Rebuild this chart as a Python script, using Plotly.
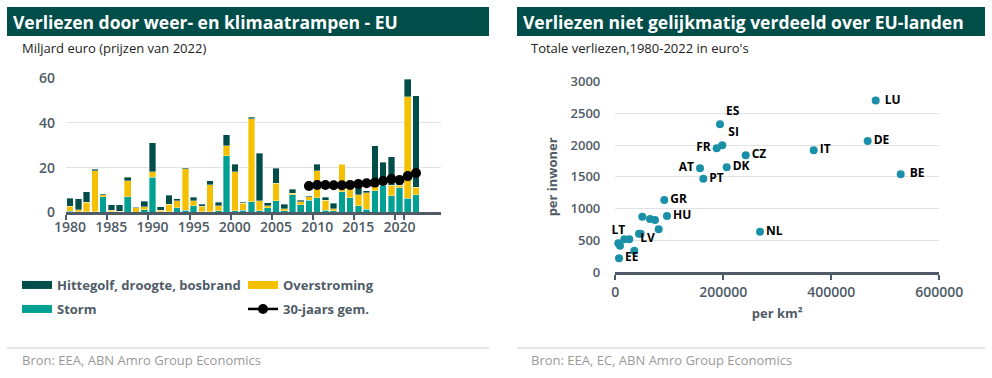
import plotly.graph_objects as go

# ---------------- data ----------------
years = list(range(1980, 2023))
storm = [0.5, 0.3, 0.2, 0.2, 7.0, 0.2, 0.3, 7.0, 0.1, 1.2,
         15.7, 0.2, 0.3, 2.1, 1.0, 3.0, 0.3, 0.3, 0.7, 25.4,
         0.6, 1.0, 4.8, 0.7, 2.1, 5.1, 0.7, 7.9, 3.3, 5.5,
         6.6, 1.0, 0.6, 9.3, 6.6, 3.0, 1.3, 9.6, 12.2, 7.5,
         11.0, 6.3, 7.8]
flood = [2.2, 0.8, 4.3, 18.5, 0.9, 0.8, 0.2, 7.2, 2.0, 1.2,
         2.5, 0.8, 3.3, 3.1, 18.4, 2.2, 2.4, 12.1, 2.3, 4.5,
         17.5, 3.0, 37.0, 4.5, 0.9, 7.9, 0.8, 0.6, 1.5, 1.4,
         11.9, 4.5, 0.9, 12.2, 4.0, 4.8, 7.5, 1.9, 0.3, 4.7,
         1.2, 45.5, 3.4]
heat = [3.6, 4.9, 4.8, 0.6, 0.3, 2.3, 2.8, 1.5, 0.1, 2.5,
        13.0, 1.5, 4.0, 0.8, 0.5, 1.5, 0.9, 1.8, 1.5, 4.9,
        3.4, 0.5, 0.7, 21.2, 1.3, 6.7, 2.2, 1.9, 0.6, 0.6,
        3.0, 1.2, 2.5, 0.3, 0.3, 3.2, 0.9, 18.4, 10.0, 12.7,
        1.5, 7.8, 40.9]
avg_years = list(range(2009, 2023))
avg30 = [11.8, 12.2, 12.2, 12.1, 12.1, 12.2, 12.7, 13.0, 13.3, 14.0, 14.9, 14.5, 16.2, 17.6]
year_ticks = ["1980", "1985", "1990", "1995", "2000", "2005", "2010", "2015", "2020"]

per_km2 = [193900, 198100, 187800, 241500, 156900, 206300, 163000, 90700, 95700, 268000,
           482200, 467400, 367400, 528500, 50000, 64300, 73500, 80300, 43900, 47000,
           5600, 8700, 16700, 25900, 35200, 6900]
per_inw = [2330, 1998, 1951, 1840, 1636, 1651, 1472, 1136, 883, 636,
           2702, 2066, 1919, 1541, 872, 836, 820, 673, 604, 604,
           453, 415, 516, 516, 336, 216]
country_labels = ["ES", "SI", "FR", "CZ", "AT", "DK", "PT", "GR", "HU", "NL",
                  " LU", "DE", "IT", " BE", "", "", "", "", "", "",
                  "LT", "", "", "", "LV", "EE"]
label_pos = ["top right", "top right", "middle left", "middle right", "middle left",
             "middle right", "middle right", "middle right", "middle right", "middle right",
             "middle right", "middle right", "middle right", "middle right",
             "middle right", "middle right", "middle right", "middle right", "middle right", "middle right",
             "top center", "middle right", "middle right", "middle right", "top right", "middle right"]

# ---------------- style ----------------
W, H = 992, 378
C_TITLE = "#004d49"
C_HEAT = "#004d49"
C_FLOOD = "#f5c000"
C_STORM = "#00a193"
C_DOT = "#1a90a8"
GRAY = "#4f5b66"
GRID = "#e2e2e2"
FONT = "Open Sans"

def px(x):
    return x / W

def py(y):
    return 1 - y / H

x_labels = [str(y) for y in years]
avg_labels = [str(y) for y in avg_years]

fig = go.Figure()

for name, vals, col in [("Storm", storm, C_STORM), ("Overstroming", flood, C_FLOOD),
                        ("Hittegolf, droogte, bosbrand", heat, C_HEAT)]:
    fig.add_trace(go.Bar(x=x_labels, y=vals, name=name, marker_color=col,
                         marker_line=dict(color="rgba(255,255,255,0.6)", width=0.6),
                         showlegend=False, xaxis="x", yaxis="y"))

fig.add_trace(go.Scatter(x=avg_labels, y=avg30, mode="lines+markers", name="30-jaars gem.",
                         line=dict(color="black", width=2.5), marker=dict(size=10, color="black"),
                         xaxis="x", yaxis="y", legend="legend2", legendrank=2))

# legend swatches (wide rectangles like the original)
fig.add_trace(go.Scatter(x=[None], y=[None], mode="lines", name="Hittegolf, droogte, bosbrand",
                         line=dict(color=C_HEAT, width=8), xaxis="x", yaxis="y", legend="legend"))
fig.add_trace(go.Scatter(x=[None], y=[None], mode="lines", name="Overstroming",
                         line=dict(color=C_FLOOD, width=8), xaxis="x", yaxis="y", legend="legend"))
fig.add_trace(go.Scatter(x=[None], y=[None], mode="lines", name="Storm",
                         line=dict(color=C_STORM, width=8), xaxis="x", yaxis="y",
                         legend="legend2", legendrank=1))

fig.add_trace(go.Scatter(x=per_km2, y=per_inw, mode="markers+text", text=country_labels,
                         textposition=label_pos, cliponaxis=False,
                         textfont=dict(family=FONT, size=12, color="black", weight=700),
                         marker=dict(size=8, color=C_DOT), showlegend=False,
                         xaxis="x2", yaxis="y2"))

tickfont = dict(family=FONT, size=14, color=GRAY, weight=600)
legfont = dict(family=FONT, size=13, color=GRAY, weight=700)

fig.update_layout(
    template="none",
    width=W, height=H, margin=dict(l=0, r=0, t=0, b=0, autoexpand=False),
    paper_bgcolor="white", plot_bgcolor="white",
    font=dict(family=FONT),
    barmode="stack", bargap=0.2,
    xaxis=dict(type="category", domain=[px(66), px(441)], anchor="y", automargin=False,
               tickmode="array", tickvals=year_ticks, tickson="boundaries", tickangle=0,
               ticks="outside", ticklen=5, tickwidth=2, tickcolor=GRAY,
               showline=True, linecolor=GRAY, linewidth=3, showgrid=False,
               tickfont=tickfont),
    yaxis=dict(domain=[py(212.3), py(78.3)], range=[0, 60], dtick=20, automargin=False,
               gridcolor=GRID, gridwidth=1, zeroline=False, showline=False, ticks="",
               tickfont=tickfont, ticklabelstandoff=10),
    xaxis2=dict(domain=[px(615.3), px(939.3)], anchor="y2", range=[0, 600000], automargin=False,
                dtick=200000, tickformat="d", showline=True, linecolor=GRAY, linewidth=3,
                ticks="outside", ticklen=5, tickwidth=2, tickcolor=GRAY, tickangle=0,
                showgrid=False, zeroline=False, tickfont=tickfont,
                title=dict(text="per km²", font=legfont, standoff=10)),
    yaxis2=dict(domain=[py(272), py(81.7)], anchor="x2", range=[0, 3000], dtick=500,
                automargin=False, gridcolor=GRID, gridwidth=1, zeroline=False, showline=False,
                ticks="", tickfont=dict(family=FONT, size=13, color=GRAY, weight=600),
                ticklabelstandoff=14,
                title=dict(text="per inwoner", font=legfont, standoff=10)),
    legend=dict(orientation="h", x=px(17), xanchor="left", y=py(285), yanchor="middle",
                entrywidth=181, entrywidthmode="pixels", font=legfont,
                bgcolor="rgba(0,0,0,0)", itemwidth=30, traceorder="normal"),
    legend2=dict(orientation="h", x=px(17), xanchor="left", y=py(309), yanchor="middle",
                 entrywidth=181, entrywidthmode="pixels", font=legfont,
                 bgcolor="rgba(0,0,0,0)", itemwidth=30, traceorder="normal"),
)

shapes = [
    dict(type="rect", xref="paper", yref="paper", x0=px(7), x1=px(489), y0=py(36), y1=py(7),
         fillcolor=C_TITLE, line=dict(width=0), layer="below"),
    dict(type="rect", xref="paper", yref="paper", x0=px(517), x1=px(985), y0=py(36), y1=py(7),
         fillcolor=C_TITLE, line=dict(width=0), layer="below"),
    dict(type="line", xref="paper", yref="paper", x0=px(7), x1=px(489), y0=py(348), y1=py(348),
         line=dict(color="#cfcfcf", width=1)),
    dict(type="line", xref="paper", yref="paper", x0=px(517), x1=px(985), y0=py(348), y1=py(348),
         line=dict(color="#cfcfcf", width=1)),
]
fig.update_layout(shapes=shapes)

annots = [
    dict(text="<b>Verliezen door weer- en klimaatrampen - EU</b>", x=px(11), y=py(22),
         font=dict(family=FONT, size=17.5, color="white")),
    dict(text="<b>Verliezen niet gelijkmatig verdeeld over EU-landen</b>", x=px(521), y=py(22),
         font=dict(family=FONT, size=17.5, color="white")),
    dict(text="Miljard euro (prijzen van 2022)", x=px(20), y=py(47.5),
         font=dict(family=FONT, size=13, color="#222222")),
    dict(text="Totale verliezen,1980-2022 in euro's", x=px(529), y=py(47.5),
         font=dict(family=FONT, size=13, color="#222222")),
    dict(text="Bron: EEA, ABN Amro Group Economics", x=px(20), y=py(360),
         font=dict(family=FONT, size=13, color="#9a9a9a")),
    dict(text="Bron: EEA, EC, ABN Amro Group Economics", x=px(529), y=py(360),
         font=dict(family=FONT, size=13, color="#9a9a9a")),
]
for a in annots:
    a.update(xref="paper", yref="paper", xanchor="left", yanchor="middle", showarrow=False)
fig.update_layout(annotations=annots)

fig.write_html("out.html", config={"displayModeBar": False},
               post_script="document.body.style.margin='0';document.body.style.padding='0';")
